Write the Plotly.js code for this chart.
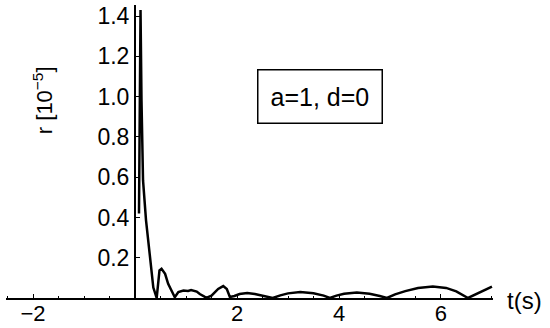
<!DOCTYPE html>
<html>
<head>
<meta charset="utf-8">
<script src="https://cdn.plot.ly/plotly-3.0.1.min.js"></script>
<style>html,body{margin:0;padding:0;background:#fff;}#chart{width:550px;height:328px;}</style>
</head>
<body>
<div id="chart"></div>
<script>
// time values (s)
const tValues = [0.078, 0.108, 0.127, 0.157, 0.216, 0.255, 0.294, 0.359, 0.425,
  0.48, 0.52, 0.59, 0.65, 0.72, 0.78,
  0.85, 0.95, 1.04, 1.1, 1.21, 1.27, 1.37, 1.41,
  1.5, 1.63, 1.73, 1.8, 1.86,
  1.95, 2.05, 2.2, 2.35, 2.5, 2.6, 2.7,
  2.85, 3.0, 3.24, 3.5, 3.7, 3.82,
  3.95, 4.1, 4.35, 4.6, 4.8, 4.94,
  5.1, 5.3, 5.55, 5.84, 6.1, 6.3, 6.53,
  6.7, 6.85, 7.0];
// r values (units of 1e-5)
const rValues = [0.42, 1.43, 0.983, 0.585, 0.386, 0.286, 0.221, 0.052, 0.0,
  0.137, 0.145, 0.12, 0.07, 0.03, 0.004,
  0.03, 0.037, 0.035, 0.04, 0.032, 0.02, 0.006, 0.002,
  0.012, 0.045, 0.059, 0.045, 0.005,
  0.01, 0.02, 0.025, 0.02, 0.012, 0.005, 0.0,
  0.013, 0.023, 0.03, 0.024, 0.012, 0.0,
  0.012, 0.021, 0.027, 0.021, 0.01, 0.0,
  0.018, 0.034, 0.05, 0.057, 0.05, 0.033, 0.0,
  0.022, 0.04, 0.057];
const xTickVals = [-2, 2, 4, 6];
const xTickText = ['\u22122', '2', '4', '6'];
const yTickVals = [0.2, 0.4, 0.6, 0.8, 1.0, 1.2, 1.4];
const yTickText = ['0.2', '0.4', '0.6', '0.8', '1.0', '1.2', '1.4'];

const FONT = 'Liberation Sans, Arial, Helvetica, sans-serif';
const xMin = -2.53, xMax = 7.02;
const yAxisPos = (0 - xMin) / (xMax - xMin);

const data = [{
  x: tValues, y: rValues, type: 'scatter', mode: 'lines',
  line: {color: '#000', width: 2.5}, hoverinfo: 'skip', cliponaxis: false
}];

const layout = {
  width: 550, height: 328,
  margin: {l: 6, r: 57, t: 5, b: 30, pad: 0},
  paper_bgcolor: '#fff', plot_bgcolor: '#fff',
  showlegend: false,
  font: {family: FONT, color: '#000', size: 22},
  xaxis: {
    range: [xMin, xMax], showgrid: false, zeroline: false,
    showline: true, linecolor: '#000', linewidth: 2,
    tickvals: xTickVals, ticktext: xTickText,
    ticks: 'inside', ticklen: 4, tickwidth: 1, tickcolor: '#000',
    ticklabelstandoff: -5,
    minor: {ticks: 'inside', ticklen: 2, dtick: 0.5, tickcolor: '#000', showgrid: false},
    tickfont: {family: FONT, size: 22, color: '#000'},
    fixedrange: true
  },
  yaxis: {
    range: [0, 1.455], anchor: 'free', position: yAxisPos,
    showgrid: false, zeroline: false,
    showline: true, linecolor: '#000', linewidth: 2,
    tickvals: yTickVals, ticktext: yTickText,
    ticks: 'inside', ticklen: 4, tickwidth: 1, tickcolor: '#000',
    tickfont: {family: FONT, size: 23, color: '#000'},
    fixedrange: true
  },
  annotations: [
    {text: 'a=1, d=0', xref: 'paper', yref: 'paper',
     x: (320 - 6) / 487, y: (297.5 - 96.7) / 292.5, xanchor: 'center', yanchor: 'middle',
     showarrow: false, font: {family: FONT, size: 25, color: '#000'},
     bordercolor: '#000', borderwidth: 1.5, borderpad: 12, bgcolor: '#fff'},
    {text: 't(s)', xref: 'paper', yref: 'paper',
     x: (505 - 6) / 487, y: (297.5 - 300) / 292.5, xanchor: 'left', yanchor: 'middle',
     showarrow: false, font: {family: FONT, size: 24, color: '#000'}},
    {text: 'r [10<sup>\u22125</sup>]', xref: 'paper', yref: 'paper',
     x: (43 - 6) / 487, y: (297.5 - 100) / 292.5, xanchor: 'center', yanchor: 'middle',
     textangle: -90, showarrow: false, font: {family: FONT, size: 22, color: '#000'}}
  ]
};

Plotly.newPlot('chart', data, layout, {staticPlot: true, displayModeBar: false});
</script>
</body>
</html>
